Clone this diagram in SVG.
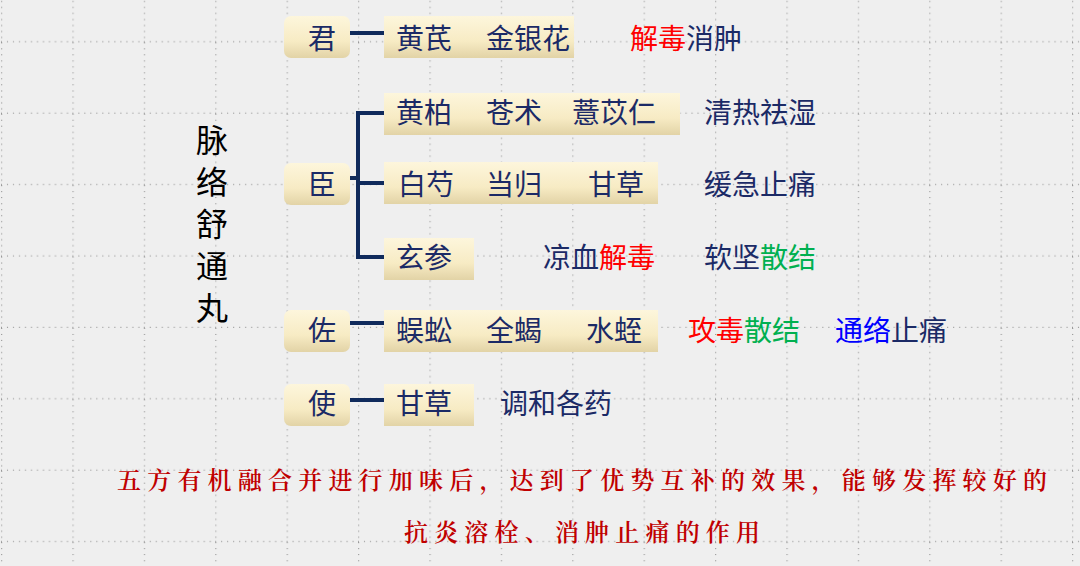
<svg xmlns="http://www.w3.org/2000/svg" width="1080" height="566" viewBox="0 0 1080 566">
<defs>
<linearGradient id="g" x1="0" y1="0" x2="0" y2="1"><stop offset="0" stop-color="#fdf6dc"/><stop offset="0.6" stop-color="#f7ebc4"/><stop offset="1" stop-color="#e2d3a6"/></linearGradient>
<pattern id="grid" x="1" y="-29" width="71.4" height="71.4" patternUnits="userSpaceOnUse">
<line x1="0.5" y1="0" x2="0.5" y2="71.4" stroke="#999" stroke-width="1.5" stroke-dasharray="1 5"/>
<line x1="0" y1="71" x2="71.4" y2="71" stroke="#999" stroke-width="1.5" stroke-dasharray="1 5"/>
</pattern>
</defs>
<style>
.b{fill:url(#g)}
.t{font-family:"Noto Sans CJK SC",sans-serif;font-size:28px;fill:#1b2a66}
.r{fill:#ff0000}.gr{fill:#00b050}.bl{fill:#0000ff}
.c{stroke:#0f2a5c;stroke-width:4;fill:none}
.f{font-family:"Noto Serif CJK SC","Noto Sans CJK SC",serif;font-size:24px;fill:#c00000;font-weight:600}
</style>
<rect width="1080" height="566" fill="#efefef"/>
<rect width="1080" height="566" fill="url(#grid)"/>
<g id="title"><text class="t" style="fill:#000;font-size:32px" x="212" text-anchor="middle"><tspan x="212" y="152">脉</tspan><tspan x="212" y="194">络</tspan><tspan x="212" y="236">舒</tspan><tspan x="212" y="278">通</tspan><tspan x="212" y="320">丸</tspan></text></g>
<g id="connectors">
<path class="c" d="M350 33H384"/>
<path class="c" d="M350 178H358M384 113H358V257H384M358 183H384"/>
<path class="c" d="M350 323H384"/>
<path class="c" d="M350 400H384"/>
</g>
<g id="jun"><rect class="b" x="284" y="16" width="66" height="42" rx="7"/><text class="t" x="308" y="49">君</text></g>
<g id="jun-herbs"><rect class="b" x="384" y="16" width="190" height="42"/><text class="t" y="49"><tspan x="396">黄芪</tspan><tspan x="486">金银花</tspan></text></g>
<g id="jun-effect"><text class="t" x="630" y="49"><tspan class="r">解毒</tspan>消肿</text></g>
<g id="chen"><rect class="b" x="284" y="163" width="66" height="42" rx="7"/><text class="t" x="308" y="195">臣</text></g>
<g id="chen1"><rect class="b" x="384" y="93" width="296" height="42"/><text class="t" y="123"><tspan x="396">黄柏</tspan><tspan x="486">苍术</tspan><tspan x="572">薏苡仁</tspan></text></g>
<g id="chen1-effect"><text class="t" x="704" y="123">清热祛湿</text></g>
<g id="chen2"><rect class="b" x="384" y="162" width="274" height="42"/><text class="t" y="195"><tspan x="398">白芍</tspan><tspan x="486">当归</tspan><tspan x="588">甘草</tspan></text></g>
<g id="chen2-effect"><text class="t" x="704" y="195">缓急止痛</text></g>
<g id="chen3"><rect class="b" x="384" y="238" width="90" height="42"/><text class="t" x="396" y="268">玄参</text></g>
<g id="chen3-effect"><text class="t" x="543" y="268">凉血<tspan class="r">解毒</tspan></text><text class="t" x="704" y="268">软坚<tspan class="gr">散结</tspan></text></g>
<g id="zuo"><rect class="b" x="284" y="310" width="66" height="42" rx="7"/><text class="t" x="308" y="341">佐</text></g>
<g id="zuo-herbs"><rect class="b" x="384" y="310" width="274" height="42"/><text class="t" y="341"><tspan x="396">蜈蚣</tspan><tspan x="486">全蝎</tspan><tspan x="586">水蛭</tspan></text></g>
<g id="zuo-effect"><text class="t" x="688" y="341"><tspan class="r">攻毒</tspan><tspan class="gr">散结</tspan></text><text class="t" x="835" y="341"><tspan class="bl">通络</tspan>止痛</text></g>
<g id="shi"><rect class="b" x="284" y="384" width="66" height="42" rx="7"/><text class="t" x="308" y="414">使</text></g>
<g id="shi-herbs"><rect class="b" x="384" y="384" width="90" height="42"/><text class="t" x="396" y="414">甘草</text></g>
<g id="shi-effect"><text class="t" x="500" y="414">调和各药</text></g>
<g id="summary">
<text class="f" x="117" y="489" textLength="930" lengthAdjust="spacing">五方有机融合并进行加味后，达到了优势互补的效果，能够发挥较好的</text>
<text class="f" x="404" y="541" textLength="356" lengthAdjust="spacing">抗炎溶栓、消肿止痛的作用</text>
</g>
</svg>
